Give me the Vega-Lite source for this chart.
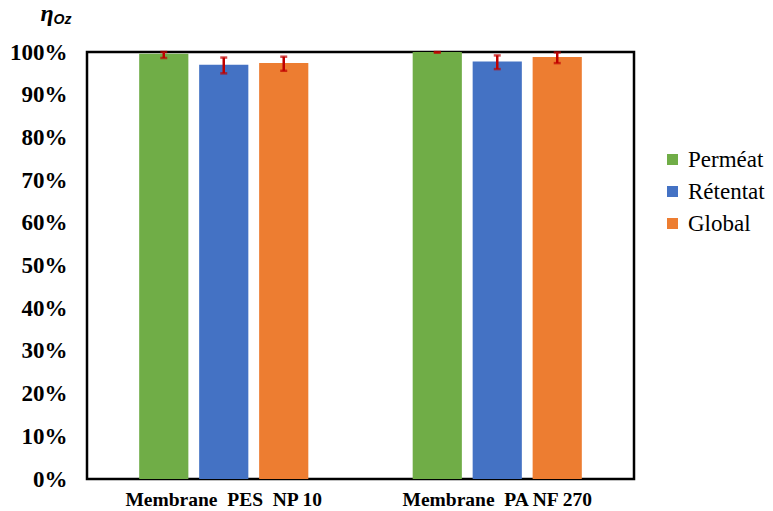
{
  "$schema": "https://vega.github.io/schema/vega-lite/v6.json",
  "autosize": "none",
  "padding": {"left": 87, "top": 52, "right": 139, "bottom": 32},
  "width": 547,
  "height": 427,
  "background": "white",
  "config": {
    "view": {"stroke": "black", "strokeWidth": 2.5},
    "axis": {"grid": false, "ticks": false, "domain": false, "labelColor": "black", "titleColor": "black"}
  },
  "data": {
    "values": [
      {"group": "Membrane\u00a0 PES\u00a0 NP 10", "series": "Perméat", "v": 0.996, "lo": 0.986, "hi": 1.0},
      {"group": "Membrane\u00a0 PES\u00a0 NP 10", "series": "Rétentat", "v": 0.970, "lo": 0.950, "hi": 0.987},
      {"group": "Membrane\u00a0 PES\u00a0 NP 10", "series": "Global", "v": 0.974, "lo": 0.956, "hi": 0.989},
      {"group": "Membrane\u00a0 PA NF 270", "series": "Perméat", "v": 1.0, "lo": 0.9985, "hi": 1.0},
      {"group": "Membrane\u00a0 PA NF 270", "series": "Rétentat", "v": 0.978, "lo": 0.960, "hi": 0.992},
      {"group": "Membrane\u00a0 PA NF 270", "series": "Global", "v": 0.988, "lo": 0.974, "hi": 0.999}
    ]
  },
  "encoding": {
    "x": {
      "field": "group", "type": "nominal", "sort": null,
      "scale": {"paddingInner": 0, "paddingOuter": 0},
      "axis": {
        "labelAngle": 0, "labelFont": "Liberation Serif", "labelFontWeight": "bold", "labelFontSize": 19.5,
        "labelPadding": 11, "labelDx": -12, "labelLimit": 400,
        "title": "Oz", "titleX": -34, "titleY": -456, "titleAlign": "left", "titleBaseline": "alphabetic",
        "titleFont": "Liberation Sans", "titleFontStyle": "italic", "titleFontWeight": "bold", "titleFontSize": 14
      }
    },
    "xOffset": {
      "field": "series", "type": "nominal", "sort": ["Perméat", "Rétentat", "Global"],
      "scale": {"paddingInner": 0.18, "paddingOuter": 0.87}
    }
  },
  "layer": [
    {
      "mark": {"type": "bar"},
      "encoding": {
        "y": {
          "field": "v", "type": "quantitative",
          "scale": {"domain": [0, 1], "nice": false},
          "axis": {
            "format": ".0%", "values": [0, 0.1, 0.2, 0.3, 0.4, 0.5, 0.6, 0.7, 0.8, 0.9, 1.0],
            "labelFont": "Liberation Serif", "labelFontWeight": "bold", "labelFontSize": 23, "labelPadding": 20,
            "title": "η", "titleAngle": 0, "titleX": -47, "titleY": -32, "titleAlign": "left",
            "titleBaseline": "alphabetic", "titleFont": "Liberation Serif", "titleFontStyle": "italic",
            "titleFontWeight": "bold", "titleFontSize": 24
          }
        },
        "color": {
          "field": "series", "type": "nominal", "sort": ["Perméat", "Rétentat", "Global"],
          "scale": {"domain": ["Perméat", "Rétentat", "Global"], "range": ["#70ad47", "#4472c4", "#ed7d31"]},
          "legend": {
            "title": null, "orient": "none", "legendX": 574, "legendY": 96, "padding": 0,
            "symbolType": "square", "symbolSize": 121, "symbolStrokeWidth": 0, "symbolOpacity": 1,
            "labelFont": "Liberation Serif", "labelFontSize": 23, "labelFontWeight": "normal", "labelColor": "black", "labelOffset": 4,
            "rowPadding": 8
          }
        }
      }
    },
    {
      "mark": {"type": "rule", "color": "#c00000", "strokeWidth": 2.5},
      "encoding": {
        "y": {"field": "lo", "type": "quantitative"},
        "y2": {"field": "hi"}
      }
    },
    {
      "mark": {"type": "tick", "color": "#c00000", "orient": "horizontal", "size": 7, "thickness": 2.5},
      "encoding": {"y": {"field": "lo", "type": "quantitative"}}
    },
    {
      "mark": {"type": "tick", "color": "#c00000", "orient": "horizontal", "size": 7, "thickness": 2.5},
      "encoding": {"y": {"field": "hi", "type": "quantitative"}}
    }
  ]
}
